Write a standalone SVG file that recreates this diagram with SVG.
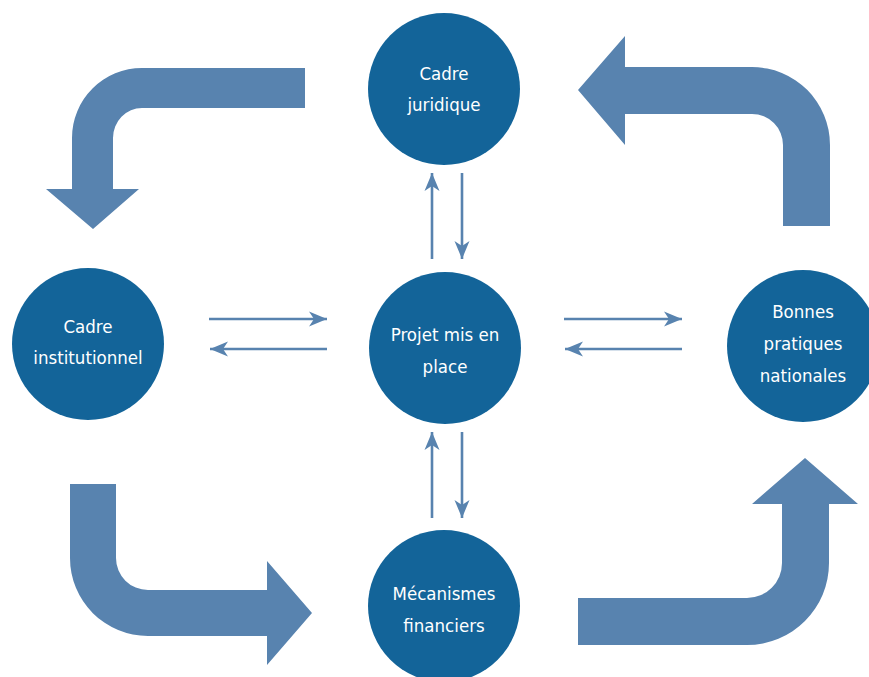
<svg xmlns="http://www.w3.org/2000/svg" width="869" height="677" viewBox="0 0 869 677">
<style>
.node{fill:#136499;}
.lbl{fill:#ffffff;font-family:"Liberation Sans Narrow","DejaVu Sans Condensed","Liberation Sans",sans-serif;font-stretch:condensed;font-size:18.5px;text-anchor:middle;}
.big{fill:#5883af;}
.thin{stroke:#5883af;stroke-width:2.6;fill:none;marker-end:url(#ah);}
</style>
<defs>
<marker id="ah" markerUnits="userSpaceOnUse" viewBox="0 -8 20 16" markerWidth="20" markerHeight="16" refX="18" refY="0" orient="auto">
<path d="M0,-7.5 L18,0 L0,7.5 L5,0 Z" fill="#5883af"/>
</marker>
</defs>
<rect width="869" height="677" fill="#ffffff"/>
<g id="connectors">
<path class="big" d="M305,68 L142,68 A70,70 0 0 0 72,138 L72,189 L46,189 L93,229 L139,189 L113,189 L113,138 A29,30 0 0 1 142,108 L305,108 Z"/>
<path class="big" d="M625,67 L752,67 A78,78 0 0 1 830,145 L830,226 L783,226 L783,145 A31,31 0 0 0 752,114 L625,114 L625,145 L578,90 L625,36 Z"/>
<path class="big" d="M70,484 L116,484 L116,558 A32,32 0 0 0 148,590 L267,590 L267,561 L312,613 L267,665 L267,636 L148,636 A78,78 0 0 1 70,558 Z"/>
<path class="big" d="M578,598 L747,598 A35,35 0 0 0 782,563 L782,504 L752,504 L805,458 L858,504 L829,504 L829,563 A82,82 0 0 1 747,645 L578,645 Z"/>
<line class="thin" x1="432" y1="259" x2="432" y2="173"/>
<line class="thin" x1="462" y1="173" x2="462" y2="259"/>
<line class="thin" x1="432" y1="518" x2="432" y2="432"/>
<line class="thin" x1="462" y1="432" x2="462" y2="518"/>
<line class="thin" x1="209" y1="319" x2="327" y2="319"/>
<line class="thin" x1="327" y1="349" x2="210" y2="349"/>
<line class="thin" x1="564" y1="319" x2="682" y2="319"/>
<line class="thin" x1="682" y1="349" x2="565" y2="349"/>
</g>
<g id="cadre-juridique">
<circle class="node" cx="444" cy="89" r="76"/>
<text class="lbl" x="444" y="80">Cadre</text>
<text class="lbl" x="444" y="111">juridique</text>
</g>
<g id="cadre-institutionnel">
<circle class="node" cx="88" cy="344" r="76"/>
<text class="lbl" x="88" y="333">Cadre</text>
<text class="lbl" x="88" y="364">institutionnel</text>
</g>
<g id="projet">
<circle class="node" cx="445" cy="348" r="76"/>
<text class="lbl" x="445" y="341">Projet mis en</text>
<text class="lbl" x="445" y="373">place</text>
</g>
<g id="bonnes-pratiques">
<circle class="node" cx="803" cy="346" r="76"/>
<text class="lbl" x="803" y="318">Bonnes</text>
<text class="lbl" x="803" y="350">pratiques</text>
<text class="lbl" x="803" y="382">nationales</text>
</g>
<g id="mecanismes">
<circle class="node" cx="444" cy="606" r="76"/>
<text class="lbl" x="444" y="600">Mécanismes</text>
<text class="lbl" x="444" y="632">financiers</text>
</g>
</svg>
